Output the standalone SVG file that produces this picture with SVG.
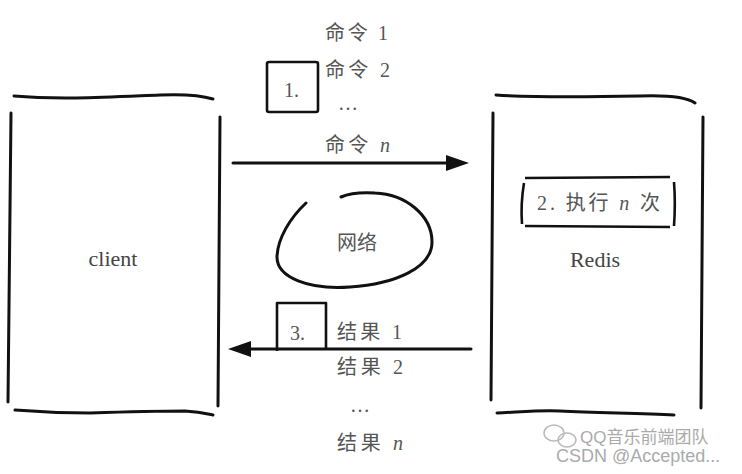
<svg xmlns="http://www.w3.org/2000/svg" width="742" height="474" viewBox="0 0 742 474">
<style>
.ln{fill:none;stroke:#111;stroke-width:3;stroke-linecap:round;stroke-linejoin:round}
.bx{fill:none;stroke:#111;stroke-width:2.6;stroke-linejoin:round}
.t{font-family:"Liberation Serif","Noto Sans CJK SC",serif;font-size:20px;fill:#555}
.lbl{font-family:"Liberation Serif",serif;font-size:22px;fill:#444}
.wm{font-family:"Liberation Sans","Noto Sans CJK SC",sans-serif;fill:#aaa}
</style>
<rect width="742" height="474" fill="#fff"/>
<g id="client">
<path class="ln" d="M14 96 C60 100 110 97 160 95 C185 94 200 95 213 99"/>
<path class="ln" d="M11 113 C10 200 9 300 8 402"/>
<path class="ln" d="M220 117 C220 200 219 300 218 406"/>
<path class="ln" d="M15 410 C40 412 70 413 90 413 C120 412 160 411 185 411 C200 412 208 414 213 415"/>
<text class="lbl" x="113" y="266" text-anchor="middle">client</text>
</g>
<g id="redis">
<path class="ln" d="M496 95 C540 98 590 97 640 96 C670 95 688 98 695 103"/>
<path class="ln" d="M493 113 C493 200 492 300 491 400"/>
<path class="ln" d="M703 117 C703 200 702 300 701 408"/>
<path class="ln" d="M497 413 C520 412 540 410 560 411 C600 413 640 413 674 415"/>
<text class="lbl" x="595" y="267" text-anchor="middle">Redis</text>
</g>
<g id="exec">
<path class="bx" d="M525 178 L670 177"/>
<path class="bx" d="M525 226 L670 227"/>
<path class="bx" d="M524 183 C522 195 521 210 522 224"/>
<path class="bx" d="M674 182 C675 195 675 212 674 226"/>
<text class="t" x="537" y="210" textLength="123">2. 执行 <tspan font-style="italic">n</tspan> 次</text>
</g>
<g id="step1">
<rect class="bx" x="267" y="62" width="51" height="50" rx="2"/>
<text class="t" x="284" y="97">1.</text>
</g>
<g id="step3">
<path class="bx" d="M277 351 L277 303 L326 303 L326 350"/>
<text class="t" x="290" y="340">3.</text>
</g>
<g id="network">
<path class="ln" d="M306 203 C290 218 278 238 277 256 C276 278 310 290 350 287 C395 284 432 268 432 242 C432 215 405 194 375 193 C360 192 348 194 341 197"/>
<text class="t" x="357" y="250" text-anchor="middle">网络</text>
</g>
<g id="connectors">
<path class="ln" d="M233 163 L450 163"/>
<polygon points="446,155 469,163 446,171" fill="#111"/>
<path class="ln" d="M250 349 L471 349"/>
<polygon points="251,341 228,349 251,357" fill="#111"/>
</g>
<g id="commands">
<text class="t" x="325" y="40" textLength="63">命令 1</text>
<text class="t" x="325" y="77" textLength="65">命令 2</text>
<text class="t" x="338" y="110">…</text>
<text class="t" x="325" y="152" textLength="65">命令 <tspan font-style="italic">n</tspan></text>
</g>
<g id="results">
<text class="t" x="337" y="339" textLength="65">结果 1</text>
<text class="t" x="337" y="374" textLength="66">结果 2</text>
<text class="t" x="350" y="412">…</text>
<text class="t" x="337" y="450" textLength="66">结果 <tspan font-style="italic">n</tspan></text>
</g>
<g id="watermark">
<ellipse cx="554" cy="433" rx="10" ry="8" fill="none" stroke="#bbb" stroke-width="1.5"/>
<ellipse cx="567" cy="440" rx="9" ry="7" fill="none" stroke="#bbb" stroke-width="1.5"/>
<text class="wm" x="580" y="443" font-size="17">QQ音乐前端团队</text>
<text class="wm" x="556" y="462" font-size="18">CSDN @Accepted...</text>
</g>
</svg>
